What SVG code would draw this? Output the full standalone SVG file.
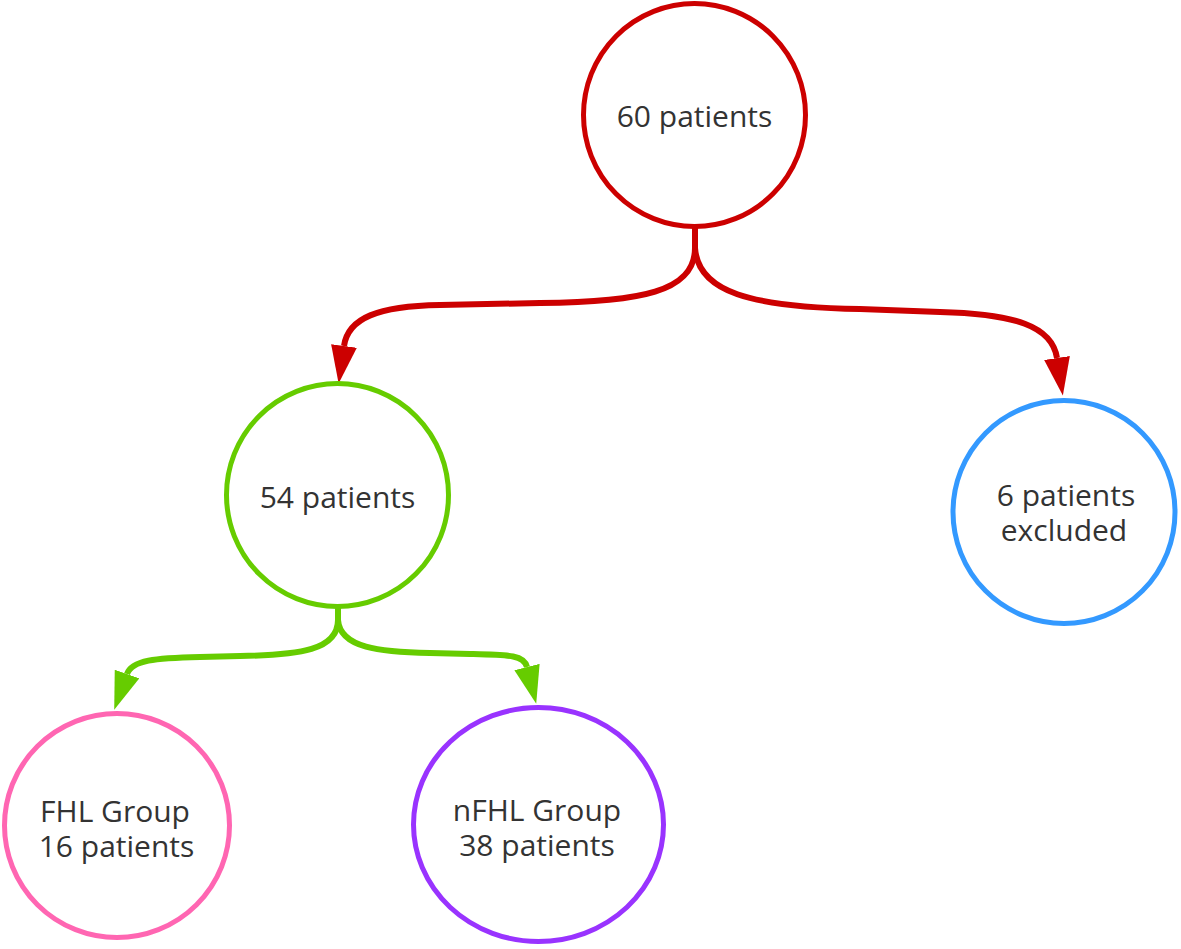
<svg xmlns="http://www.w3.org/2000/svg" width="1181" height="949" viewBox="0 0 1181 949">
<style>
.node{fill:#ffffff;stroke-width:5}
.lbl{font-family:"Open Sans","Noto Sans","Liberation Sans",sans-serif;font-size:30px;fill:#333333;text-anchor:middle}
.conn{fill:none;stroke-width:6}
</style>
<defs>
<marker id="aRed" markerUnits="userSpaceOnUse" markerWidth="40" markerHeight="28" refX="0" refY="13" orient="auto">
<path d="M0,0 L38,13 L0,26 Z" fill="#CC0000"/>
</marker>
<marker id="aGreen" markerUnits="userSpaceOnUse" markerWidth="40" markerHeight="28" refX="0" refY="13" orient="auto">
<path d="M0,0 L38,13 L0,26 Z" fill="#66CC00"/>
</marker>
</defs>
<rect width="1181" height="949" fill="#ffffff"/>
<g id="connectors">
<path class="conn" stroke="#CC0000" d="M695,226 L695,248 C695,292 640,302 540,303 L440,305 C378,306 348,318 344,346" marker-end="url(#aRed)"/>
<path class="conn" stroke="#CC0000" d="M695,248 C698,292 750,307 860,309 L940,312 C1015,314 1052,326 1057,358" marker-end="url(#aRed)"/>
<path class="conn" stroke="#66CC00" d="M338,606 L338,620 C338,650 300,655 240,656 L200,657 C155,658 132,660 127,674" marker-end="url(#aGreen)"/>
<path class="conn" stroke="#66CC00" d="M338,620 C340,648 380,652 430,653 L470,654 C510,655 524,655 527,667" marker-end="url(#aGreen)"/>
</g>
<g id="n60">
<ellipse class="node" stroke="#CC0000" cx="694.5" cy="115" rx="111" ry="111.5"/>
<text class="lbl" x="694.5" y="127">60 patients</text>
</g>
<g id="n54">
<ellipse class="node" stroke="#66CC00" cx="337.5" cy="495" rx="111" ry="111.5"/>
<text class="lbl" x="337.5" y="507.5">54 patients</text>
</g>
<g id="n6">
<ellipse class="node" stroke="#3399FF" cx="1064" cy="512" rx="111" ry="111.5"/>
<text class="lbl" x="1066" y="506">6 patients</text>
<text class="lbl" x="1064" y="541">excluded</text>
</g>
<g id="nFHL">
<ellipse class="node" stroke="#FF66B2" cx="117" cy="825.5" rx="112.5" ry="112"/>
<text class="lbl" x="115" y="821.5">FHL Group</text>
<text class="lbl" x="116.5" y="856.5">16 patients</text>
</g>
<g id="nnFHL">
<ellipse class="node" stroke="#9933FF" cx="538.5" cy="824.5" rx="125" ry="117"/>
<text class="lbl" x="537" y="821">nFHL Group</text>
<text class="lbl" x="537" y="856">38 patients</text>
</g>
</svg>
